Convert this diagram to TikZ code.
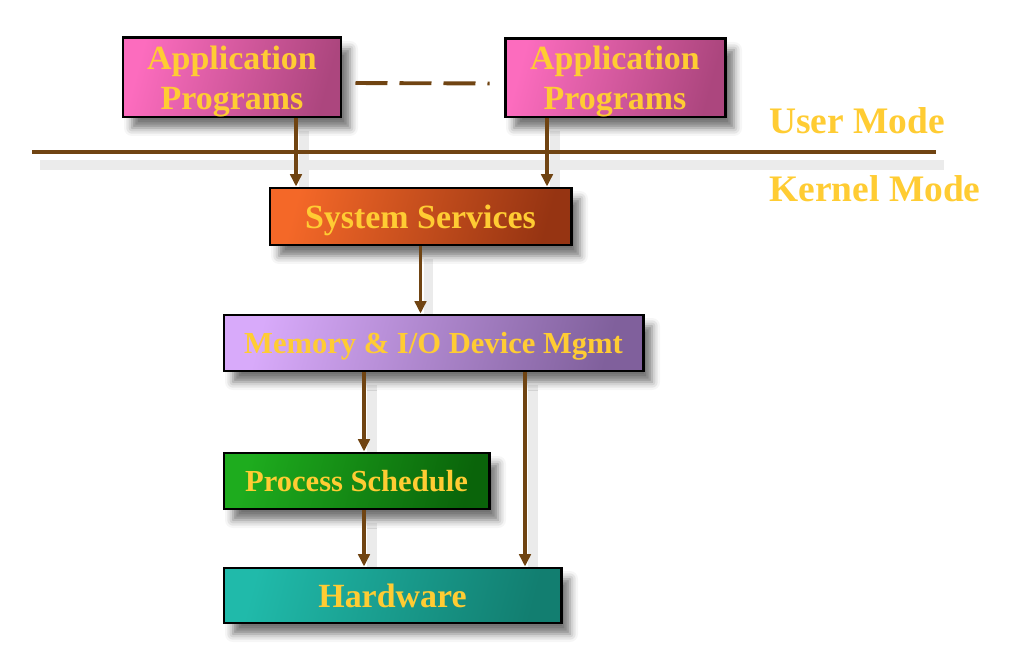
\documentclass[tikz,border=0pt]{standalone}
\usepackage{fontspec}
\setmainfont{Liberation Serif}
\usetikzlibrary{arrows.meta,shadows.blur,backgrounds}

\definecolor{txtyellow}{RGB}{255,204,51}
\definecolor{arrbrown}{RGB}{112,68,18}
\definecolor{appL}{RGB}{252,108,190}
\definecolor{appR}{RGB}{172,70,126}
\definecolor{sysL}{RGB}{244,104,40}
\definecolor{sysR}{RGB}{150,52,18}
\definecolor{memL}{RGB}{216,170,250}
\definecolor{memR}{RGB}{128,96,156}
\definecolor{procL}{RGB}{30,172,30}
\definecolor{procR}{RGB}{10,100,10}
\definecolor{hwL}{RGB}{32,186,170}
\definecolor{hwR}{RGB}{18,126,112}

\tikzset{
	box/.style={draw=black, line width=1.7pt, inner sep=0pt, align=center,
		text=txtyellow, font=\bfseries\fontsize{19.3}{23}\selectfont, text depth=-0.06cm,
		blur shadow={shadow xshift=0.18cm, shadow yshift=-0.22cm, shadow blur radius=0.16cm, shadow opacity=55}},
	smallbox/.style={box, font=\bfseries\fontsize{17.4}{21}\selectfont},
	shade2/.style 2 args={left color=#1, right color=#2, shading angle=75},
	modetext/.style={text=txtyellow, font=\bfseries\fontsize{21.3}{25}\selectfont},
	conn/.style={draw=arrbrown, line width=2.2pt},
	connshadow/.style={draw=black!8, line width=5.5pt},
}

\begin{document}
\begin{tikzpicture}[>={Triangle[length=7pt,width=6.5pt]}]
		\useasboundingbox (0,0) rectangle (20.32,-13);
		\draw
		node[box, shade2={appL}{appR}, minimum width=4.36cm, minimum height=1.58cm] at (4.64,-1.55) (app1) {Application\\Programs}
		node[box, shade2={appL}{appR}, minimum width=4.40cm, minimum height=1.56cm] at (12.30,-1.56) (app2) {Application\\Programs}
		node[box, shade2={sysL}{sysR}, minimum width=6.02cm, minimum height=1.14cm] at (8.41,-4.33) (sys) {System Services}
		node[smallbox, shade2={memL}{memR}, minimum width=8.38cm, minimum height=1.12cm] at (8.67,-6.86) (mem) {Memory \& I/O Device Mgmt}
		node[smallbox, shade2={procL}{procR}, minimum width=5.30cm, minimum height=1.12cm] at (7.13,-9.62) (proc) {Process Schedule}
		node[box, shade2={hwL}{hwR}, minimum width=6.74cm, minimum height=1.10cm] at (7.85,-11.91) (hw) {Hardware}

		node[modetext] at (17.14,-2.42) (user) {User Mode}
		node[modetext] at (17.50,-3.78) (kernel) {Kernel Mode}
		;

		\coordinate (divL) at (0.64,-3.04);
		\coordinate (divR) at (18.72,-3.04);

		% shadows of the lines, behind the boxes
		\begin{pgfonlayer}{background}
		\begin{scope}[transform canvas={xshift=0.16cm, yshift=-0.26cm}]
		\draw[connshadow] (divL) -- (divR);
		\draw[connshadow] ([xshift=1.28cm]app1.south) -- ([xshift=1.28cm]app1.south |- sys.north);
		\draw[connshadow] ([xshift=-1.36cm]app2.south) -- ([xshift=-1.36cm]app2.south |- sys.north);
		\draw[connshadow] (sys.south) -- (sys.south |- mem.north);
		\draw[connshadow] ([xshift=0.15cm]proc.north |- mem.south) -- ([xshift=0.15cm]proc.north);
		\draw[connshadow] ([xshift=0.15cm]proc.south) -- ([xshift=0.15cm]proc.south |- hw.north);
		\draw[connshadow] ([xshift=1.83cm]mem.south) -- ([xshift=1.83cm]mem.south |- hw.north);
		\end{scope}
		\end{pgfonlayer}

		\draw[conn] (divL) -- (divR);
		\draw[conn, dash pattern=on 0.64cm off 0.24cm, shorten <=0.26cm, shorten >=0.28cm]
			([yshift=-0.11cm]app1.east) -- ([yshift=-0.11cm]app2.west);

		\draw[conn, ->] ([xshift=1.28cm]app1.south) -- ([xshift=1.28cm]app1.south |- sys.north);
		\draw[conn, ->] ([xshift=-1.36cm]app2.south) -- ([xshift=-1.36cm]app2.south |- sys.north);
		\draw[conn, ->] (sys.south) -- (sys.south |- mem.north);
		\draw[conn, ->] ([xshift=0.15cm]proc.north |- mem.south) -- ([xshift=0.15cm]proc.north);
		\draw[conn, ->] ([xshift=0.15cm]proc.south) -- ([xshift=0.15cm]proc.south |- hw.north);
		\draw[conn, ->] ([xshift=1.83cm]mem.south) -- ([xshift=1.83cm]mem.south |- hw.north);
	\end{tikzpicture}
\end{document}
